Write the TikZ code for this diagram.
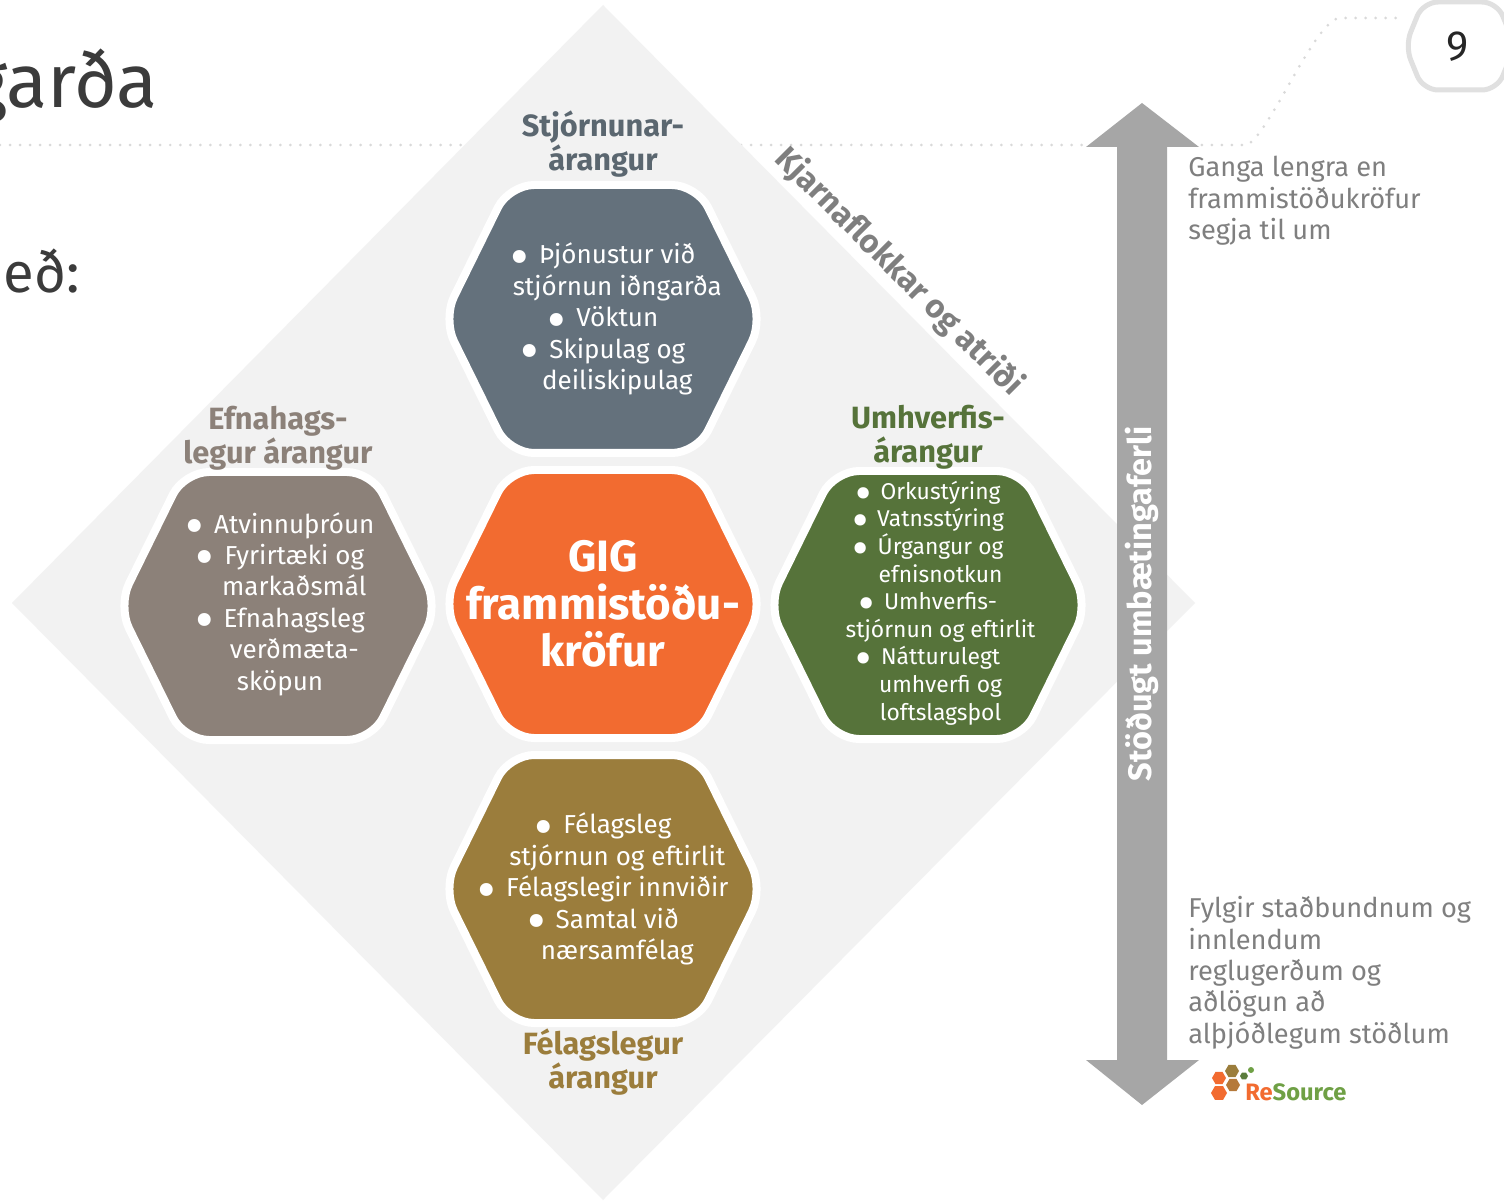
\documentclass[tikz,border=0pt]{standalone}
\usepackage{fontspec}
\setmainfont{Fira Sans}
\definecolor{stjcol}{HTML}{64717C}
\definecolor{stjdark}{HTML}{5B6770}
\definecolor{gigcol}{HTML}{F26B30}
\definecolor{felcol}{HTML}{9B7D3C}
\definecolor{efncol}{HTML}{8C8179}
\definecolor{umhcol}{HTML}{56733A}
\definecolor{diamcol}{HTML}{F2F2F2}
\definecolor{arrowcol}{HTML}{A6A6A6}
\definecolor{sidegray}{HTML}{7F7F7F}
\definecolor{dotgray}{HTML}{D9D9D9}
\definecolor{titlegray}{HTML}{3B3B3B}
\definecolor{logobrown}{HTML}{B5793A}
\definecolor{logogreen}{HTML}{6FA045}
\newcommand{\hexbul}{\makebox[1.1em][l]{\smash{\raisebox{-0.48em}{\scalebox{2.2}{\textbullet}}}}}
\newcommand{\hexind}{\hspace*{1.1em}}

\begin{document}
\begin{tikzpicture}[x=0.02cm, y=-0.02cm,
        hexb/.style={draw=white, line width=0.16cm, rounded corners=0.5cm},
        hexlist/.style={text=white, align=center, inner sep=0pt, font=\fontsize{14.8}{17.9}\selectfont},
        lbl/.style={align=center, inner sep=0pt, font=\bfseries\fontsize{17.5}{19.3}\selectfont},
        sidetxt/.style={text=sidegray, align=left, anchor=north west, inner sep=0pt, font=\fontsize{15.5}{17.9}\selectfont},
        dotline/.style={draw=dotgray, line width=1.7pt, line cap=round, dash pattern=on 0pt off 5.7pt}]
        \useasboundingbox (0,0) rectangle (1504,1202);
        \fill[white] (0,0) rectangle (1504,1202);
        % dotted rule and page number
        \draw[dotline] (0,145) -- (1245,145) .. controls (1265,145) and (1315,18) .. (1340,18) -- (1400,18);
        \draw[draw=black!12, line width=0.1cm, rounded corners=0.3cm] (1405,46) -- (1423,2) -- (1497,2) -- (1515,46) -- (1497,90) -- (1423,90) -- cycle;
        \node[text=black!85, font=\fontsize{24}{28}\selectfont] (pagenum) at (1458,47) {9};
        % title remains
        \node[anchor=base east, inner sep=0pt, text=titlegray, font=\fontsize{43}{48}\selectfont] (title) at (158,108) {garða};
        \node[anchor=base east, inner sep=0pt, text=titlegray, font=\fontsize{32}{36}\selectfont] (subtitle) at (80,293) {eð:};
        % diamond
        \fill[diamcol] (603,5) -- (1195,603) -- (603,1200) -- (12,603) -- cycle;
        \node[rotate=-45, text=sidegray, font=\bfseries\fontsize{18.5}{20}\selectfont] (kjarna) at (899,272) {Kjarnaflokkar og atriði};
        % hexagons
        \foreach \cx/\cy/\col in {603/319/stjcol, 603/604/gigcol, 603/889/felcol, 278/606/efncol, 928/605/umhcol}
                \draw[hexb, fill=\col, shift={(\cx,\cy)}] (-160,0) -- (-94,-134) -- (94,-134) -- (160,0) -- (94,134) -- (-94,134) -- cycle;
        \node[hexlist] (stjlist) at (603,319) {\hexbul Þjónustur við\\ \hexind stjórnun iðngarða\\ \hexbul Vöktun\\ \hexbul Skipulag og\\ \hexind deiliskipulag};
        \node[text=white, align=center, inner sep=0pt, font=\bfseries\fontsize{25}{27}\selectfont] (gig) at (603,604) {GIG\\frammistöðu-\\kröfur};
        \node[hexlist] (fellist) at (603,889) {\hexbul Félagsleg\\ \hexind stjórnun og eftirlit\\ \hexbul Félagslegir innviðir\\ \hexbul Samtal við\\ \hexind nærsamfélag};
        \node[hexlist] (efnlist) at (280,604) {\hexbul Atvinnuþróun\\ \hexbul Fyrirtæki og\\ \hexind markaðsmál\\ \hexbul Efnahagsleg\\ \hexind verðmæta-\\ sköpun};
        \node[hexlist, font=\fontsize{13}{15.7}\selectfont] (umhlist) at (928,603) {\hexbul Orkustýring\\ \hexbul Vatnsstýring\\ \hexbul Úrgangur og\\ \hexind efnisnotkun\\ \hexbul Umhverfis-\\ \hexind stjórnun og eftirlit\\ \hexbul Nátturulegt\\ \hexind umhverfi og\\ \hexind loftslagsþol};
        % headings
        \node[lbl, text=stjdark] (stjlbl) at (603,144) {Stjórnunar-\\árangur};
        \node[lbl, text=efncol] (efnlbl) at (278,438) {Efnahags-\\legur árangur};
        \node[lbl, text=umhcol] (umhlbl) at (928,437) {Umhverfis-\\árangur};
        \node[lbl, text=felcol] (fellbl) at (603,1062) {Félagslegur\\árangur};
        % improvement arrow
        \fill[arrowcol] (1142,103) -- (1199,147) -- (1167,147) -- (1167,1060) -- (1199,1060) -- (1142,1105) -- (1086,1060) -- (1117,1060) -- (1117,147) -- (1086,147) -- cycle;
        \node[rotate=90, text=white, font=\bfseries\fontsize{18.5}{20}\selectfont] (arrowtxt) at (1142,604) {Stöðugt umbætingaferli};
        \node[sidetxt] (uppertxt) at (1188,156) {Ganga lengra en\\frammistöðukröfur\\segja til um};
        \node[sidetxt] (lowertxt) at (1188,896) {Fylgir staðbundnum og\\innlendum\\reglugerðum og\\aðlögun að\\alþjóðlegum stöðlum};
        % logo
        \foreach \lx/\ly/\lr/\lc in {1219/1078/7/gigcol, 1232/1071/7/felcol, 1233/1085/7/logobrown, 1219/1093/8/gigcol, 1244/1076/4/umhcol!80!logogreen}
                \fill[\lc] (\lx,\ly) +(0:\lr) -- +(60:\lr) -- +(120:\lr) -- +(180:\lr) -- +(240:\lr) -- +(300:\lr) -- cycle;
        \fill[logogreen] (1251,1070) circle (0.06cm);
        \node[anchor=base west, inner sep=0pt, font=\bfseries\fontsize{13.5}{16}\selectfont] (logo) at (1245,1100) {\textcolor{gigcol}{Re}\textcolor{logogreen}{Source}};
\end{tikzpicture}
\end{document}
